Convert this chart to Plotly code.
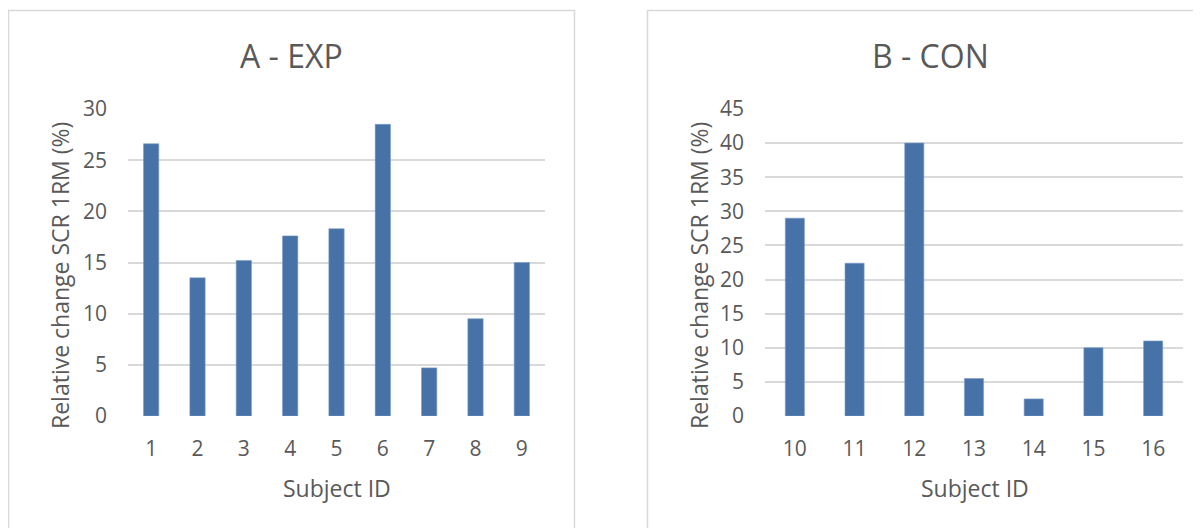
import plotly.graph_objects as go

# ---- data ----
exp_ids = ["1", "2", "3", "4", "5", "6", "7", "8", "9"]
exp_vals = [26.6, 13.5, 15.2, 17.6, 18.3, 28.5, 4.7, 9.5, 15.0]
con_ids = ["10", "11", "12", "13", "14", "15", "16"]
con_vals = [29.0, 22.4, 40.0, 5.5, 2.5, 10.0, 11.0]
titles = ["A - EXP", "B - CON"]
y_title = "Relative change SCR 1RM (%)"
x_title = "Subject ID"

# page body has an 8px margin: size the figure so it fills the window exactly
OFF = 8
W, H = 1201 - OFF, 528 - OFF
FONT = "Open Sans"
TXT = "#595959"
BAR = "#4672A7"
GRID = "#D9D9D9"


def px(x):
    return (x - OFF) / W


def py(y):
    return 1 - (y - OFF) / H


fig = go.Figure()
fig.add_trace(go.Bar(x=exp_ids, y=exp_vals, xaxis="x", yaxis="y",
                     marker=dict(color=BAR, line=dict(color="#7b9cc8", width=0.6)),
                     width=0.33, showlegend=False, hoverinfo="skip"))
fig.add_trace(go.Bar(x=con_ids, y=con_vals, xaxis="x2", yaxis="y2",
                     marker=dict(color=BAR, line=dict(color="#7b9cc8", width=0.6)),
                     width=0.32, showlegend=False, hoverinfo="skip"))

axis_common = dict(showline=False, zeroline=False, ticks="", automargin=False,
                   tickfont=dict(family=FONT, size=21, color=TXT))

fig.update_layout(
    template="none",
    width=W, height=H,
    margin=dict(l=0, r=0, t=0, b=0, pad=0),
    paper_bgcolor="white", plot_bgcolor="white",
    font=dict(family=FONT, color=TXT),
    xaxis=dict(domain=[px(128), px(545)], anchor="y", type="category",
               showgrid=False, ticklabelstandoff=18, **axis_common),
    yaxis=dict(domain=[py(416), py(109)], anchor="x", range=[0, 30], dtick=5,
               showgrid=True, gridcolor=GRID, gridwidth=1.8,
               ticklabelstandoff=20, **axis_common),
    xaxis2=dict(domain=[px(765), px(1183)], anchor="y2", type="category",
                showgrid=False, ticklabelstandoff=18, **axis_common),
    yaxis2=dict(domain=[py(416), py(109)], anchor="x2", range=[0, 45], dtick=5,
                showgrid=True, gridcolor=GRID, gridwidth=1.8,
                ticklabelstandoff=20, **axis_common),
)

annotations = []
# panel titles
for cx, t in ((291, titles[0]), (930, titles[1])):
    annotations.append(dict(x=px(cx), y=py(55), xref="paper", yref="paper",
                            text=t, showarrow=False, xanchor="center", yanchor="middle",
                            font=dict(family=FONT, size=32, color=TXT)))
# y titles
for cx in (60, 699):
    annotations.append(dict(x=px(cx), y=py(276), xref="paper", yref="paper",
                            text=y_title, textangle=-90, showarrow=False,
                            xanchor="center", yanchor="middle",
                            font=dict(family=FONT, size=23, color=TXT)))
# x titles
for cx in (337, 975):
    annotations.append(dict(x=px(cx), y=py(488), xref="paper", yref="paper",
                            text=x_title, showarrow=False,
                            xanchor="center", yanchor="middle",
                            font=dict(family=FONT, size=23, color=TXT)))
fig.update_layout(annotations=annotations)

# chart-area borders
shapes = [
    dict(type="rect", xref="paper", yref="paper", x0=px(8.5), x1=px(574.5),
         y0=-0.2, y1=py(10.5), line=dict(color=GRID, width=1.5),
         fillcolor="rgba(0,0,0,0)", layer="below"),
    dict(type="rect", xref="paper", yref="paper", x0=px(647.5), x1=1.2,
         y0=-0.2, y1=py(10.5), line=dict(color=GRID, width=1.5),
         fillcolor="rgba(0,0,0,0)", layer="below"),
]
fig.update_layout(shapes=shapes)

fig.write_html("out.html")
